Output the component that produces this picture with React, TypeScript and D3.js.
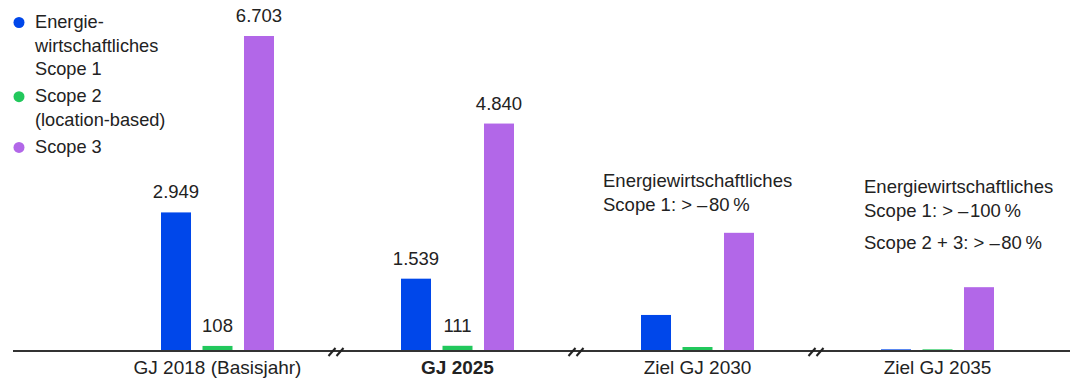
import React from "react";
import * as d3 from "d3";

const categories = ["GJ 2018 (Basisjahr)", "GJ 2025", "Ziel GJ 2030", "Ziel GJ 2035"];
const boldCategory = "GJ 2025";
const seriesNames = ["Energiewirtschaftliches Scope 1", "Scope 2 (location-based)", "Scope 3"];
const legendLines = [["Energie-", "wirtschaftliches", "Scope 1"], ["Scope 2", "(location-based)"], ["Scope 3"]];
const colors = ["#0047ea", "#22c85c", "#b267e8"];
const scope1 = [2949, 1539, 767, 35];
const scope2 = [108, 111, 85, 35];
const scope3 = [6703, 4840, 2515, 1358];
const valueLabels = [["2.949", "108", "6.703"], ["1.539", "111", "4.840"], [null, null, null], [null, null, null]];
const annotation2030 = ["Energiewirtschaftliches", "Scope 1: > \u2013\u200A80\u202F%"];
const annotation2035 = ["Energiewirtschaftliches", "Scope 1: > \u2013\u200A100\u202F%", "Scope 2 + 3: > \u2013\u200A80\u202F%"];

const W = 1071, H = 378;
const FONT = "'Liberation Sans', Arial, sans-serif";
const TXT = "#222";

export default function App() {
  const baseline = 351;
  const x = d3.scaleBand<string>().domain(categories).range([97.5, 1057.5]).padding(0);
  const inner = d3.scaleBand<string>().domain(seriesNames).range([-56.5, 56.5]).paddingInner(0.277).paddingOuter(0);
  const y = d3.scaleLinear().domain([0, 6703]).range([baseline, 36]);
  const data = [scope1, scope2, scope3];
  const bw = inner.bandwidth();
  const breaks = categories.slice(1).map((c) => x(c)!);

  return (
    <svg width={W} height={H} style={{ position: "absolute", left: 0, top: 0 }} fontFamily={FONT}>
      <rect width={W} height={H} fill="#fff" />
      {categories.map((c, ci) => {
        const cx = x(c)! + x.bandwidth() / 2;
        return (
          <g key={c}>
            {seriesNames.map((s, si) => {
              const v = data[si][ci];
              const bx = cx + inner(s)!;
              const top = y(v);
              const lbl = valueLabels[ci][si];
              return (
                <g key={s}>
                  <rect x={bx} y={top} width={bw} height={baseline - top} fill={colors[si]} />
                  {lbl && (
                    <text x={bx + bw / 2} y={top - 14} textAnchor="middle" fontSize={18.5} fill={TXT}>
                      {lbl}
                    </text>
                  )}
                </g>
              );
            })}
            <text x={cx} y={374} textAnchor="middle" fontSize={19} fill={TXT} fontWeight={c === boldCategory ? "bold" : "normal"}>
              {c}
            </text>
          </g>
        );
      })}
      <line x1={13} x2={1070} y1={baseline} y2={baseline} stroke="#333" strokeWidth={2} />
      {breaks.map((bx, i) => (
        <g key={i} stroke="#222" strokeWidth={2}>
          <line x1={bx - 9} y1={baseline + 5} x2={bx - 2} y2={baseline - 3} />
          <line x1={bx - 1} y1={baseline + 5} x2={bx + 6} y2={baseline - 3} />
        </g>
      ))}
      {annotation2030.map((t, i) => (
        <text key={i} x={603} y={187 + i * 23.5} fontSize={18.5} fill={TXT}>{t}</text>
      ))}
      {annotation2035.map((t, i) => (
        <text key={i} x={864} y={[193, 216.5, 249][i]} fontSize={18.5} fill={TXT}>{t}</text>
      ))}
      {(() => {
        let yy = 28;
        return legendLines.map((lines, li) => {
          const startY = yy;
          const els = (
            <g key={li}>
              <circle cx={19} cy={startY - 5.5} r={5.5} fill={colors[li]} />
              {lines.map((t, k) => (
                <text key={k} x={35} y={startY + k * 23.5} fontSize={18.2} fill={TXT}>{t}</text>
              ))}
            </g>
          );
          yy += lines.length * 23.5 + 3.7;
          return els;
        });
      })()}
    </svg>
  );
}
